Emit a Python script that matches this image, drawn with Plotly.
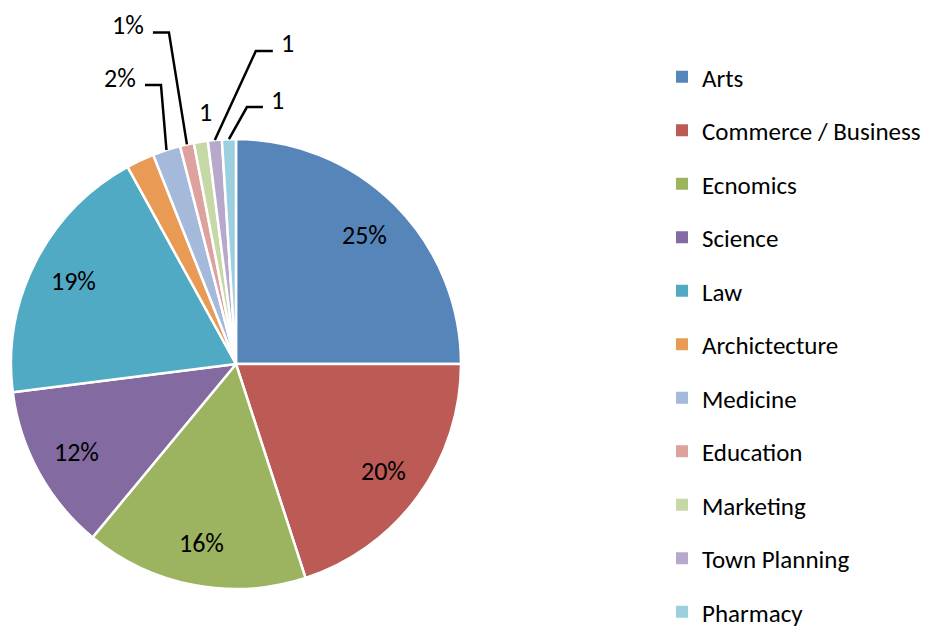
import math
import plotly.graph_objects as go

# ---- data ----
categories = ["Arts", "Commerce / Business", "Ecnomics", "Science", "Law",
              "Archictecture", "Medicine", "Education", "Marketing",
              "Town Planning", "Pharmacy"]
values = [25, 20, 16, 12, 19, 2, 2, 1, 1, 1, 1]
slice_labels = ["25%", "20%", "16%", "12%", "19%", "", "2%", "1%", "1", "1", "1"]
colors = ["#5585B9", "#BC5A55", "#9CB45F", "#836AA0", "#50AAC3", "#E99A54",
          "#A5B9DA", "#DDA19E", "#C6D8A6", "#B8A9CC", "#9DD0DE"]

# ---- layout / style ----
W, H = 935, 627
OFF = 8  # page body margin
CX, CY, R = 236 - OFF, 364 - OFF, 225
FONT = "Carlito, Lato, sans-serif"
FS = 26
LFS = 25
inside_r = 0.81
outside_style = {
    6: dict(elbow=(-5.5, -65), hlen=-16, line=True),
    7: dict(elbow=(-18, -112), hlen=-16, line=True),
    8: dict(elbow=(5, -30), hlen=0, line=False),
    9: dict(elbow=(41, -89), hlen=17, line=True),
    10: dict(elbow=(18, -32), hlen=16, line=True),
}

def px2paper(x, y):
    return x / W, 1 - y / H

fig = go.Figure()
x0, y1 = px2paper(CX - R, CY - R)
x1, y0 = px2paper(CX + R, CY + R)
fig.add_trace(go.Pie(
    labels=categories, values=values, sort=False, direction="clockwise",
    rotation=0, textinfo="none", hoverinfo="label+value+percent",
    marker=dict(colors=colors, line=dict(color="white", width=2.5)),
    domain=dict(x=[x0, x1], y=[y0, y1]), showlegend=False,
))

total = sum(values)
cum = 0
annotations = []
shapes = []
for i, v in enumerate(values):
    mid = (cum + v / 2) / total
    cum += v
    th = 2 * math.pi * mid
    txt = slice_labels[i]
    if not txt:
        continue
    if i not in outside_style:
        px_ = CX + inside_r * R * math.sin(th)
        py_ = CY - inside_r * R * math.cos(th)
        xp, yp = px2paper(px_, py_)
        annotations.append(dict(x=xp, y=yp, xref="paper", yref="paper", text=txt,
                                xanchor="center", yanchor="middle",
                                showarrow=False, font=dict(family=FONT, size=FS, color="black")))
    else:
        st = outside_style[i]
        ax_ = CX + R * math.sin(th)
        ay_ = CY - R * math.cos(th)
        ex, ey = ax_ + st["elbow"][0], ay_ + st["elbow"][1]
        hx = ex + st["hlen"]
        if st["line"]:
            pa = px2paper(ax_, ay_); pe = px2paper(ex, ey); ph = px2paper(hx, ey)
            shapes.append(dict(type="path", xref="paper", yref="paper",
                               path=f"M {pa[0]},{pa[1]} L {pe[0]},{pe[1]} L {ph[0]},{ph[1]}",
                               line=dict(color="black", width=2.5)))
            if st["hlen"] < 0:
                tx, anchor = hx - 7, "right"
            else:
                tx, anchor = hx + 6, "left"
            ty = ey - 7.5
        else:
            tx, anchor, ty = ex, "center", ey
        xp, yp = px2paper(tx, ty)
        annotations.append(dict(x=xp, y=yp, xref="paper", yref="paper", text=txt,
                                xanchor=anchor, yanchor="middle", showarrow=False,
                                font=dict(family=FONT, size=FS, color="black")))

# legend via dummy traces
for i, (c, col) in enumerate(zip(categories, colors)):
    fig.add_trace(go.Scatter(x=[None], y=[None], mode="markers", name=c,
                             legendgroup=str(i),
                             marker=dict(symbol="square", size=12, color=col)))

fig.update_layout(
    width=W, height=H, margin=dict(l=0, r=0, t=0, b=0),
    paper_bgcolor="white", plot_bgcolor="white",
    xaxis=dict(visible=False, domain=[0.99, 1]), yaxis=dict(visible=False, domain=[0.99, 1]),
    annotations=annotations, shapes=shapes,
    legend=dict(x=(662 - OFF) / W, y=1 - (60 - OFF + 1) / H, xanchor="left", yanchor="top",
                font=dict(family=FONT, size=LFS, color="black"),
                traceorder="grouped", tracegroupgap=18.0, itemsizing="trace",
                bgcolor="rgba(0,0,0,0)"),
    showlegend=True,
)
fig.write_html("out.html")
